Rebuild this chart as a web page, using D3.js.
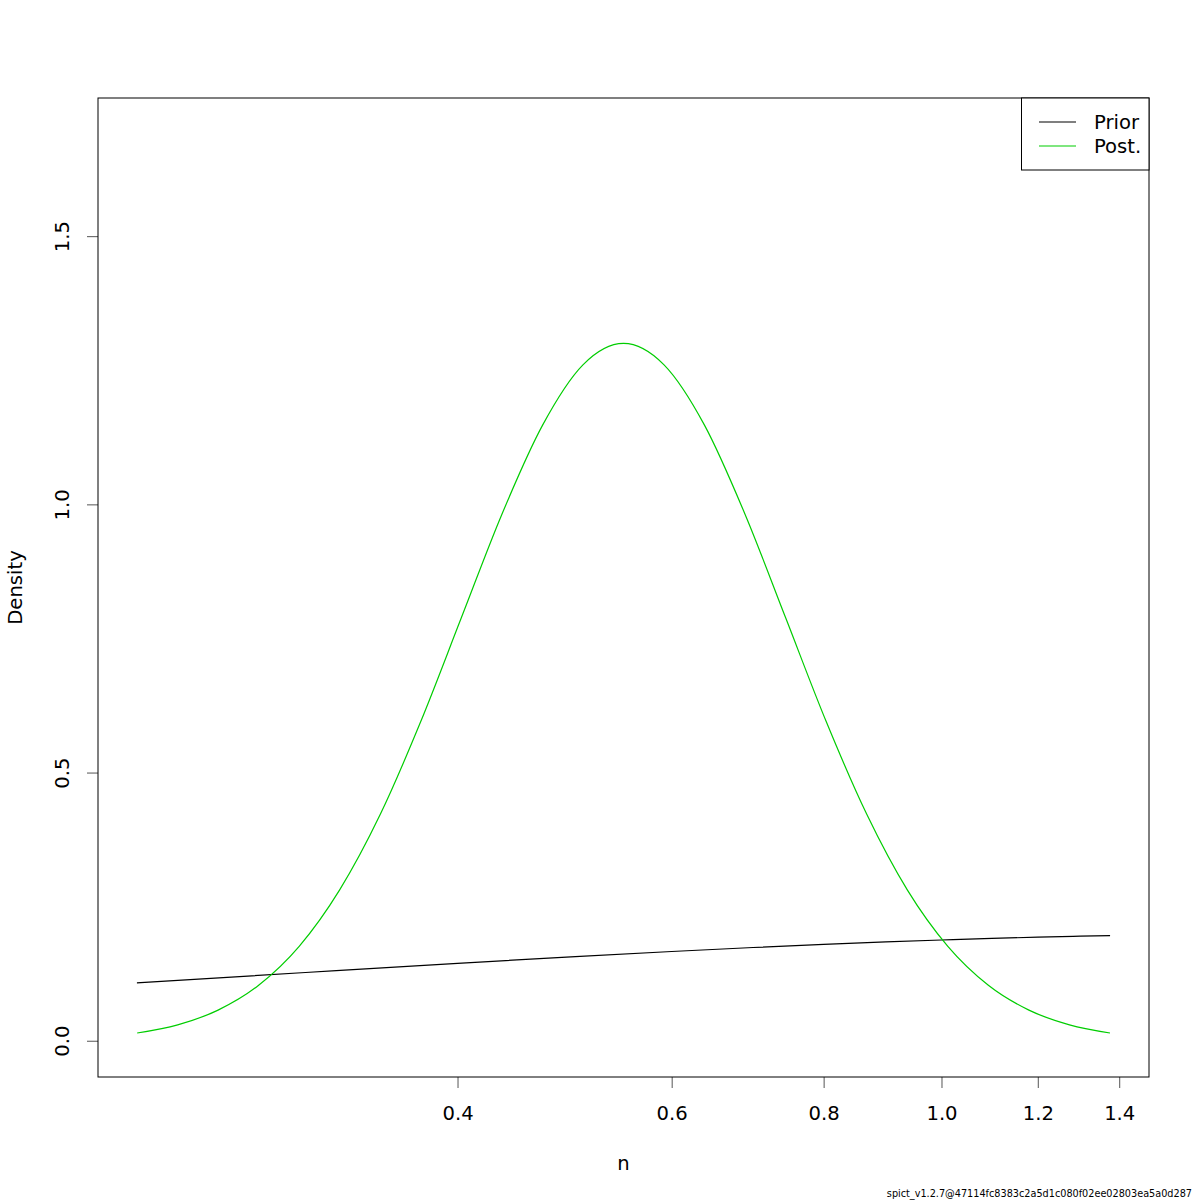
<!DOCTYPE html>
<html><head><meta charset="utf-8">
<script src="https://cdn.jsdelivr.net/npm/d3@7"></script>
<style>body{margin:0;background:#fff}text{font-family:"DejaVu Sans",sans-serif}</style>
</head><body><svg id="c" width="1200" height="1200"></svg>
<script>
const postN = [0.2181,0.2355,0.2542,0.2745,0.2964,0.3200,0.3456,0.3731,0.4029,0.4350,0.4698,0.5072,0.5477,0.5914,0.6386,0.6895,0.7445,0.8039,0.8681,0.9373,1.0121,1.0928,1.1800,1.2742,1.3758];
const postD = [0.0144,0.0296,0.0571,0.1034,0.1759,0.2812,0.4221,0.5951,0.7885,0.9812,1.1472,1.2600,1.3000,1.2600,1.1472,0.9812,0.7885,0.5951,0.4221,0.2812,0.1759,0.1034,0.0571,0.0296,0.0144];
const priorN = [0.218,0.3,0.4,0.5,0.6,0.7,0.8,0.9,1.0,1.1,1.2,1.3,1.376];
const priorD = [0.1079,0.1272,0.1443,0.1569,0.1664,0.1738,0.1796,0.1842,0.1878,0.1908,0.1931,0.1949,0.1960];
const xTicks = [0.4,0.6,0.8,1.0,1.2,1.4];
const yTicks = [0.0,0.5,1.0,1.5];
const legendLabels = ["Prior","Post."];
const colors = ["#000000","#00cd00"];

const svg = d3.select("#c");
const L=98,R=1149,T=98,B=1077;
const FS=19.6;
const lx0=Math.log(0.218), lx1=Math.log(1.376), ext=(lx1-lx0)*0.04;
const x = d3.scaleLog().domain([Math.exp(lx0-ext), Math.exp(lx1+ext)]).range([L,R]);
const ymax = 1.69, yext = ymax*0.04;
const y = d3.scaleLinear().domain([-yext, ymax+yext]).range([B,T]);

const line = d3.line().x(d=>x(d[0])).y(d=>y(d[1])).curve(d3.curveMonotoneX);
svg.append("path").datum(priorN.map((n,i)=>[n,priorD[i]])).attr("d",line)
  .attr("fill","none").attr("stroke",colors[0]).attr("stroke-width",1.2);
svg.append("path").datum(postN.map((n,i)=>[n,postD[i]])).attr("d",line)
  .attr("fill","none").attr("stroke",colors[1]).attr("stroke-width",1.2);

// axes
const xa = svg.append("g").attr("transform",`translate(0,${B})`)
  .call(d3.axisBottom(x).tickValues(xTicks).tickFormat(d3.format(".1f")).tickSize(11).tickSizeOuter(0));
xa.select(".domain").remove();
xa.selectAll("line").attr("stroke","#555");
xa.selectAll("text").attr("font-size",FS).attr("fill","#000").attr("dy",0).attr("y",43).attr("font-family","DejaVu Sans");
const ya = svg.append("g").attr("transform",`translate(${L},0)`)
  .call(d3.axisLeft(y).tickValues(yTicks).tickFormat(d3.format(".1f")).tickSize(11).tickSizeOuter(0));
ya.select(".domain").remove();
ya.selectAll("line").attr("stroke","#555");
ya.selectAll("text").attr("font-size",FS).attr("fill","#000").attr("font-family","DejaVu Sans")
  .attr("x",null).attr("dy",null).attr("text-anchor","middle")
  .attr("transform","translate(-29,0) rotate(-90)").attr("y",0);

svg.append("rect").attr("x",L).attr("y",T).attr("width",R-L).attr("height",B-T)
  .attr("fill","none").attr("stroke","#000").attr("stroke-width",1);

svg.append("text").attr("x",(L+R)/2).attr("y",1170).attr("text-anchor","middle").attr("font-size",FS).text("n");
svg.append("text").attr("transform",`translate(22,${(T+B)/2}) rotate(-90)`).attr("text-anchor","middle").attr("font-size",FS).text("Density");

// legend
svg.append("rect").attr("x",1021.5).attr("y",T).attr("width",R-1021.5).attr("height",72)
  .attr("fill","#fff").attr("stroke","#000").attr("stroke-width",1);
legendLabels.forEach((lab,i)=>{
  const yy = 122+i*24;
  svg.append("line").attr("x1",1039).attr("x2",1076).attr("y1",yy).attr("y2",yy).attr("stroke",colors[i]).attr("stroke-width",1.2);
  svg.append("text").attr("x",1094).attr("y",yy+6.5).attr("font-size",FS).text(lab);
});

svg.append("text").attr("x",1192).attr("y",1197).attr("text-anchor","end")
  .attr("font-family","Liberation Sans, Arial, sans-serif").attr("font-size",9.7)
  .text("spict_v1.2.7@47114fc8383c2a5d1c080f02ee02803ea5a0d287");
</script></body></html>
